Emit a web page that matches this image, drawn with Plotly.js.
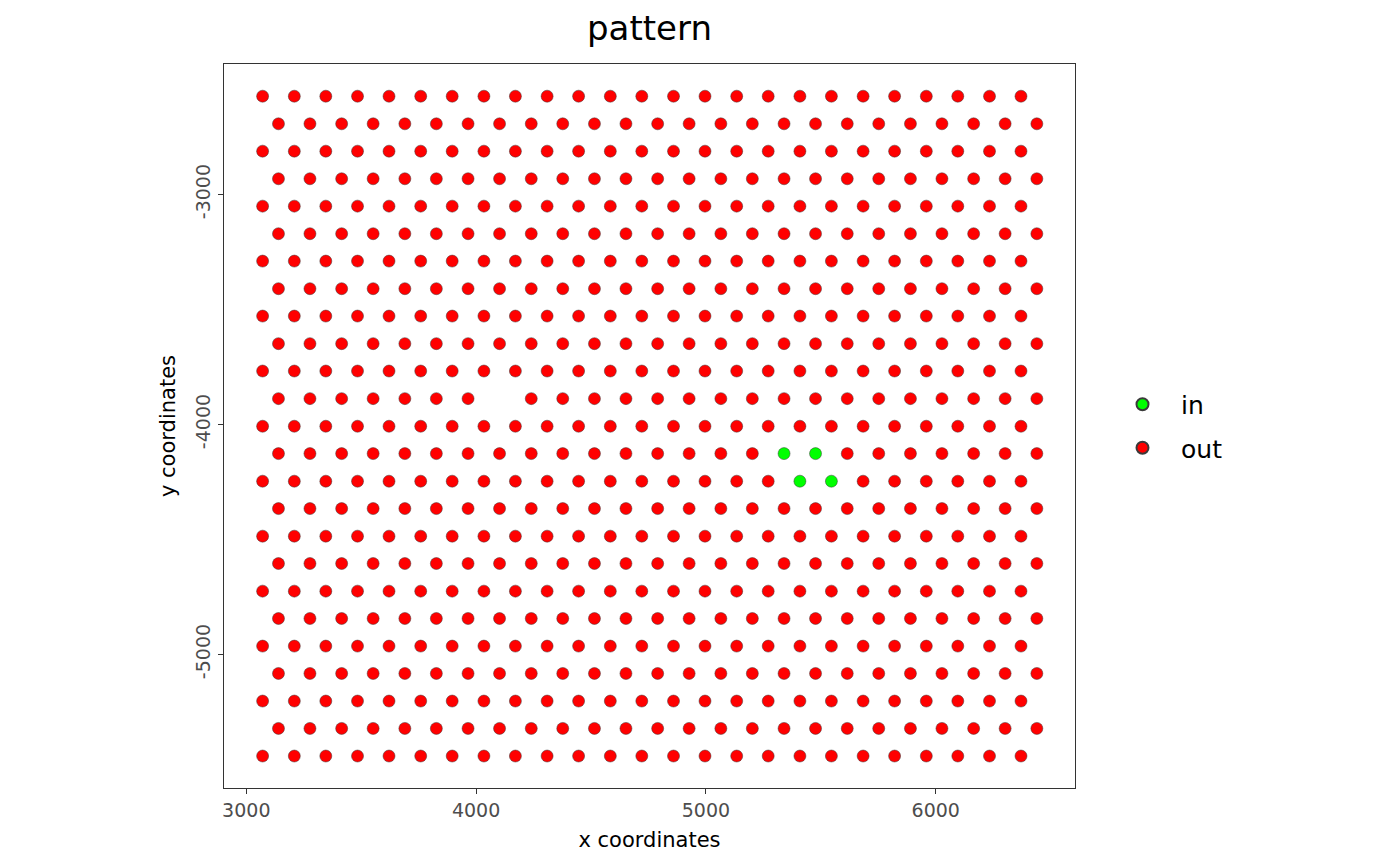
<!DOCTYPE html>
<html>
<head>
<meta charset="utf-8">
<script src="https://cdn.plot.ly/plotly-3.0.1.min.js"></script>
<style>html,body{margin:0;padding:0;background:#fff;}#chart{width:1400px;height:866px;}</style>
</head>
<body>
<div id="chart"></div>
<script>
// Spot grid (hexagonal lattice): x positions for even rows and odd rows, and row y positions
const evenRowX = [3071, 3209, 3346, 3484, 3621, 3759, 3896, 4034, 4171, 4309, 4446, 4584, 4721, 4859, 4996, 5134, 5271, 5409, 5546, 5684, 5821, 5959, 6096, 6234, 6371];
const oddRowX  = [3140, 3277, 3415, 3552, 3690, 3827, 3965, 4102, 4240, 4377, 4515, 4652, 4790, 4927, 5065, 5202, 5340, 5477, 5615, 5752, 5890, 6027, 6165, 6302, 6440];
const rowY = [-2573, -2693, -2812, -2932, -3051, -3171, -3290, -3410, -3529, -3649, -3768, -3888, -4008, -4127, -4247, -4366, -4486, -4605, -4725, -4844, -4964, -5083, -5203, -5322, -5442];

// Spots labelled "in"
const inX = [5340, 5477, 5409, 5546];
const inY = [-4127, -4127, -4247, -4247];

// Spot absent from the grid
const missingX = [4102];
const missingY = [-3888];

const legendNames = ["in", "out"];
const fillColors = ["#00FF00", "#FF0000"];

// Build "out" spots: every grid spot that is neither "in" nor missing
function isIn(list_x, list_y, x, y) {
  for (let k = 0; k < list_x.length; k++) {
    if (list_x[k] === x && list_y[k] === y) return true;
  }
  return false;
}
const outX = [], outY = [];
rowY.forEach((y, r) => {
  const xs = (r % 2 === 0) ? evenRowX : oddRowX;
  xs.forEach(x => {
    if (isIn(inX, inY, x, y) || isIn(missingX, missingY, x, y)) return;
    outX.push(x); outY.push(y);
  });
});

const markerLine = {color: '#3a3a3a', width: 0.5};
const traces = [
  {x: inX, y: inY, type: 'scatter', mode: 'markers', name: legendNames[0], legendgroup: 'g1',
   marker: {color: fillColors[0], size: 12, line: markerLine}, hoverinfo: 'x+y+name'},
  {x: outX, y: outY, type: 'scatter', mode: 'markers', name: legendNames[1], legendgroup: 'g2',
   marker: {color: fillColors[1], size: 12, line: markerLine}, hoverinfo: 'x+y+name'}
];

const font = "DejaVu Sans, Liberation Sans, sans-serif";
const layout = {
  width: 1400, height: 866,
  paper_bgcolor: '#ffffff', plot_bgcolor: '#ffffff',
  margin: {l: 224, r: 325, t: 64, b: 78, pad: 0},
  font: {family: font, color: '#000000'},
  title: {text: 'pattern', font: {family: font, size: 34, color: '#000000'},
          xref: 'paper', x: 0.5, xanchor: 'center', yref: 'container', y: 1 - 28/866, yanchor: 'middle'},
  xaxis: {
    range: [2903, 6606], tickvals: [3000, 4000, 5000, 6000], ticktext: ['3000', '4000', '5000', '6000'],
    showgrid: false, zeroline: false, showline: true, mirror: true, linecolor: '#333333', linewidth: 1.1,
    ticks: 'outside', ticklen: 5, tickwidth: 1.1, tickcolor: '#333333',
    tickfont: {family: font, size: 19, color: '#4D4D4D'},
    title: {text: 'x coordinates', font: {family: font, size: 21, color: '#000000'}, standoff: 12}
  },
  yaxis: {
    range: [-5581, -2433], tickvals: [-5000, -4000, -3000], ticktext: ['-5000', '-4000', '-3000'],
    showgrid: false, zeroline: false, showline: true, mirror: true, linecolor: '#333333', linewidth: 1.1,
    ticks: 'outside', ticklen: 5, tickwidth: 1.1, tickcolor: '#333333', tickangle: -90,
    tickfont: {family: font, size: 19, color: '#4D4D4D'},
    title: {text: 'y coordinates', font: {family: font, size: 21, color: '#000000'}, standoff: 10}
  },
  showlegend: true,
  legend: {x: (1104 - 224) / 851, xanchor: 'left', y: 0.5, yanchor: 'middle',
           font: {family: font, size: 25, color: '#000000'}, traceorder: 'grouped', tracegroupgap: 8,
           bgcolor: 'rgba(0,0,0,0)', itemsizing: 'constant', itemwidth: 67}
};

Plotly.newPlot('chart', traces, layout, {displayModeBar: false, staticPlot: true});
</script>
</body>
</html>
